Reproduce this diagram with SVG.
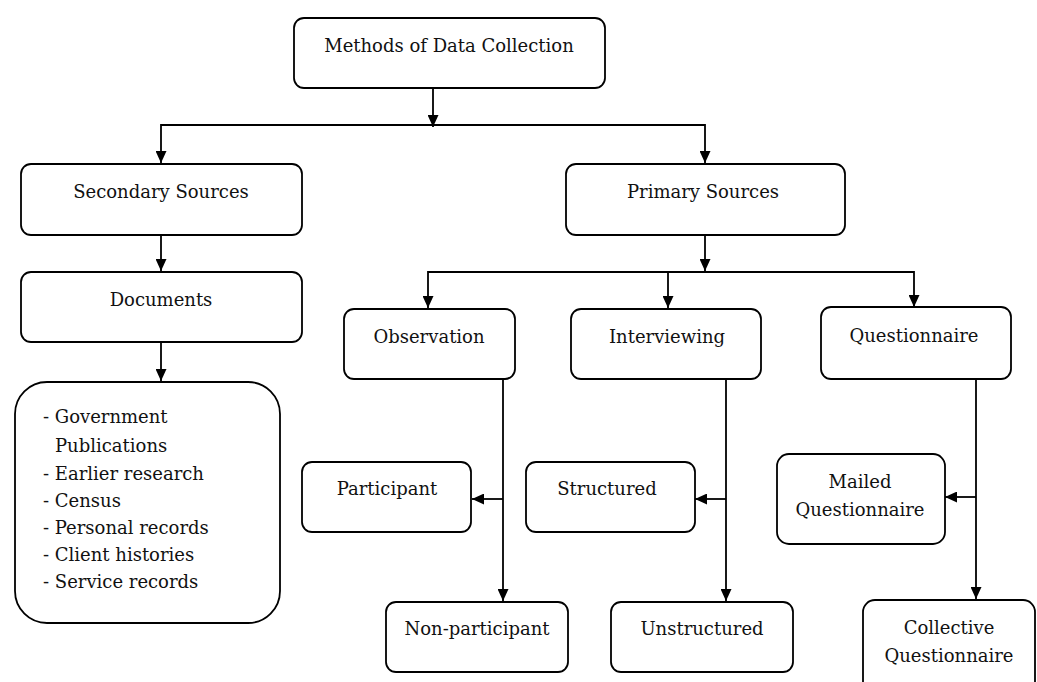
<svg xmlns="http://www.w3.org/2000/svg" width="1037" height="682" viewBox="0 0 1037 682">
<defs>
<marker id="ah" markerUnits="userSpaceOnUse" markerWidth="12" markerHeight="11" refX="12" refY="5.5" orient="auto" viewBox="0 0 12 11">
<path d="M0,0 L12,5.5 L0,11 z" fill="#000"/>
</marker>
<style>
.box{fill:#fff;stroke:#000;stroke-width:1.8}
text{font-family:'DejaVu Serif',serif;font-size:18px;fill:#111}
.t{text-anchor:middle}
.c{fill:none;stroke:#000;stroke-width:1.8;marker-end:url(#ah)}
</style>
</defs>
<rect width="1037" height="682" fill="#fff"/>
<g id="connectors">
<path class="c" d="M433,89 V127"/>
<path class="c" d="M433,125 H161 V163"/>
<path class="c" d="M433,125 H705 V163"/>
<path class="c" d="M161,235 V271"/>
<path class="c" d="M161,342 V381"/>
<path class="c" d="M705,235 V271"/>
<path class="c" d="M668,272 H428 V308"/>
<path class="c" d="M668,272 V308"/>
<path class="c" d="M668,272 H914 V307"/>
<path class="c" d="M503,379 V601"/>
<path class="c" d="M503,499 H472"/>
<path class="c" d="M726,379 V601"/>
<path class="c" d="M726,499 H695"/>
<path class="c" d="M976,379 V599"/>
<path class="c" d="M976,497 H945"/>
</g>
<g id="n-methods"><rect class="box" x="294" y="18" width="311" height="70" rx="10"/><text class="t" x="449" y="52">Methods of Data Collection</text></g>
<g id="n-secondary"><rect class="box" x="21" y="164" width="281" height="71" rx="10"/><text class="t" x="161" y="198">Secondary Sources</text></g>
<g id="n-primary"><rect class="box" x="566" y="164" width="279" height="71" rx="10"/><text class="t" x="703" y="198">Primary Sources</text></g>
<g id="n-documents"><rect class="box" x="21" y="272" width="281" height="70" rx="10"/><text class="t" x="161" y="306">Documents</text></g>
<g id="n-list"><rect class="box" x="15" y="382" width="265" height="241" rx="32"/>
<text x="43" y="423">- Government</text>
<text x="55" y="452">Publications</text>
<text x="43" y="480">- Earlier research</text>
<text x="43" y="507">- Census</text>
<text x="43" y="534">- Personal records</text>
<text x="43" y="561">- Client histories</text>
<text x="43" y="588">- Service records</text>
</g>
<g id="n-observation"><rect class="box" x="344" y="309" width="171" height="70" rx="10"/><text class="t" x="429" y="343">Observation</text></g>
<g id="n-interviewing"><rect class="box" x="571" y="309" width="190" height="70" rx="10"/><text class="t" x="667" y="343">Interviewing</text></g>
<g id="n-questionnaire"><rect class="box" x="821" y="307" width="190" height="72" rx="10"/><text class="t" x="914" y="342">Questionnaire</text></g>
<g id="n-participant"><rect class="box" x="302" y="462" width="169" height="70" rx="10"/><text class="t" x="387" y="495">Participant</text></g>
<g id="n-nonparticipant"><rect class="box" x="386" y="602" width="182" height="70" rx="10"/><text class="t" x="477" y="635">Non-participant</text></g>
<g id="n-structured"><rect class="box" x="526" y="462" width="169" height="70" rx="10"/><text class="t" x="607" y="495">Structured</text></g>
<g id="n-unstructured"><rect class="box" x="611" y="602" width="182" height="70" rx="10"/><text class="t" x="702" y="635">Unstructured</text></g>
<g id="n-mailed"><rect class="box" x="777" y="454" width="168" height="90" rx="12"/><text class="t" x="860" y="488">Mailed</text><text class="t" x="860" y="516">Questionnaire</text></g>
<g id="n-collective"><rect class="box" x="863" y="600" width="172" height="100" rx="12"/><text class="t" x="949" y="634">Collective</text><text class="t" x="949" y="662">Questionnaire</text></g>
</svg>
